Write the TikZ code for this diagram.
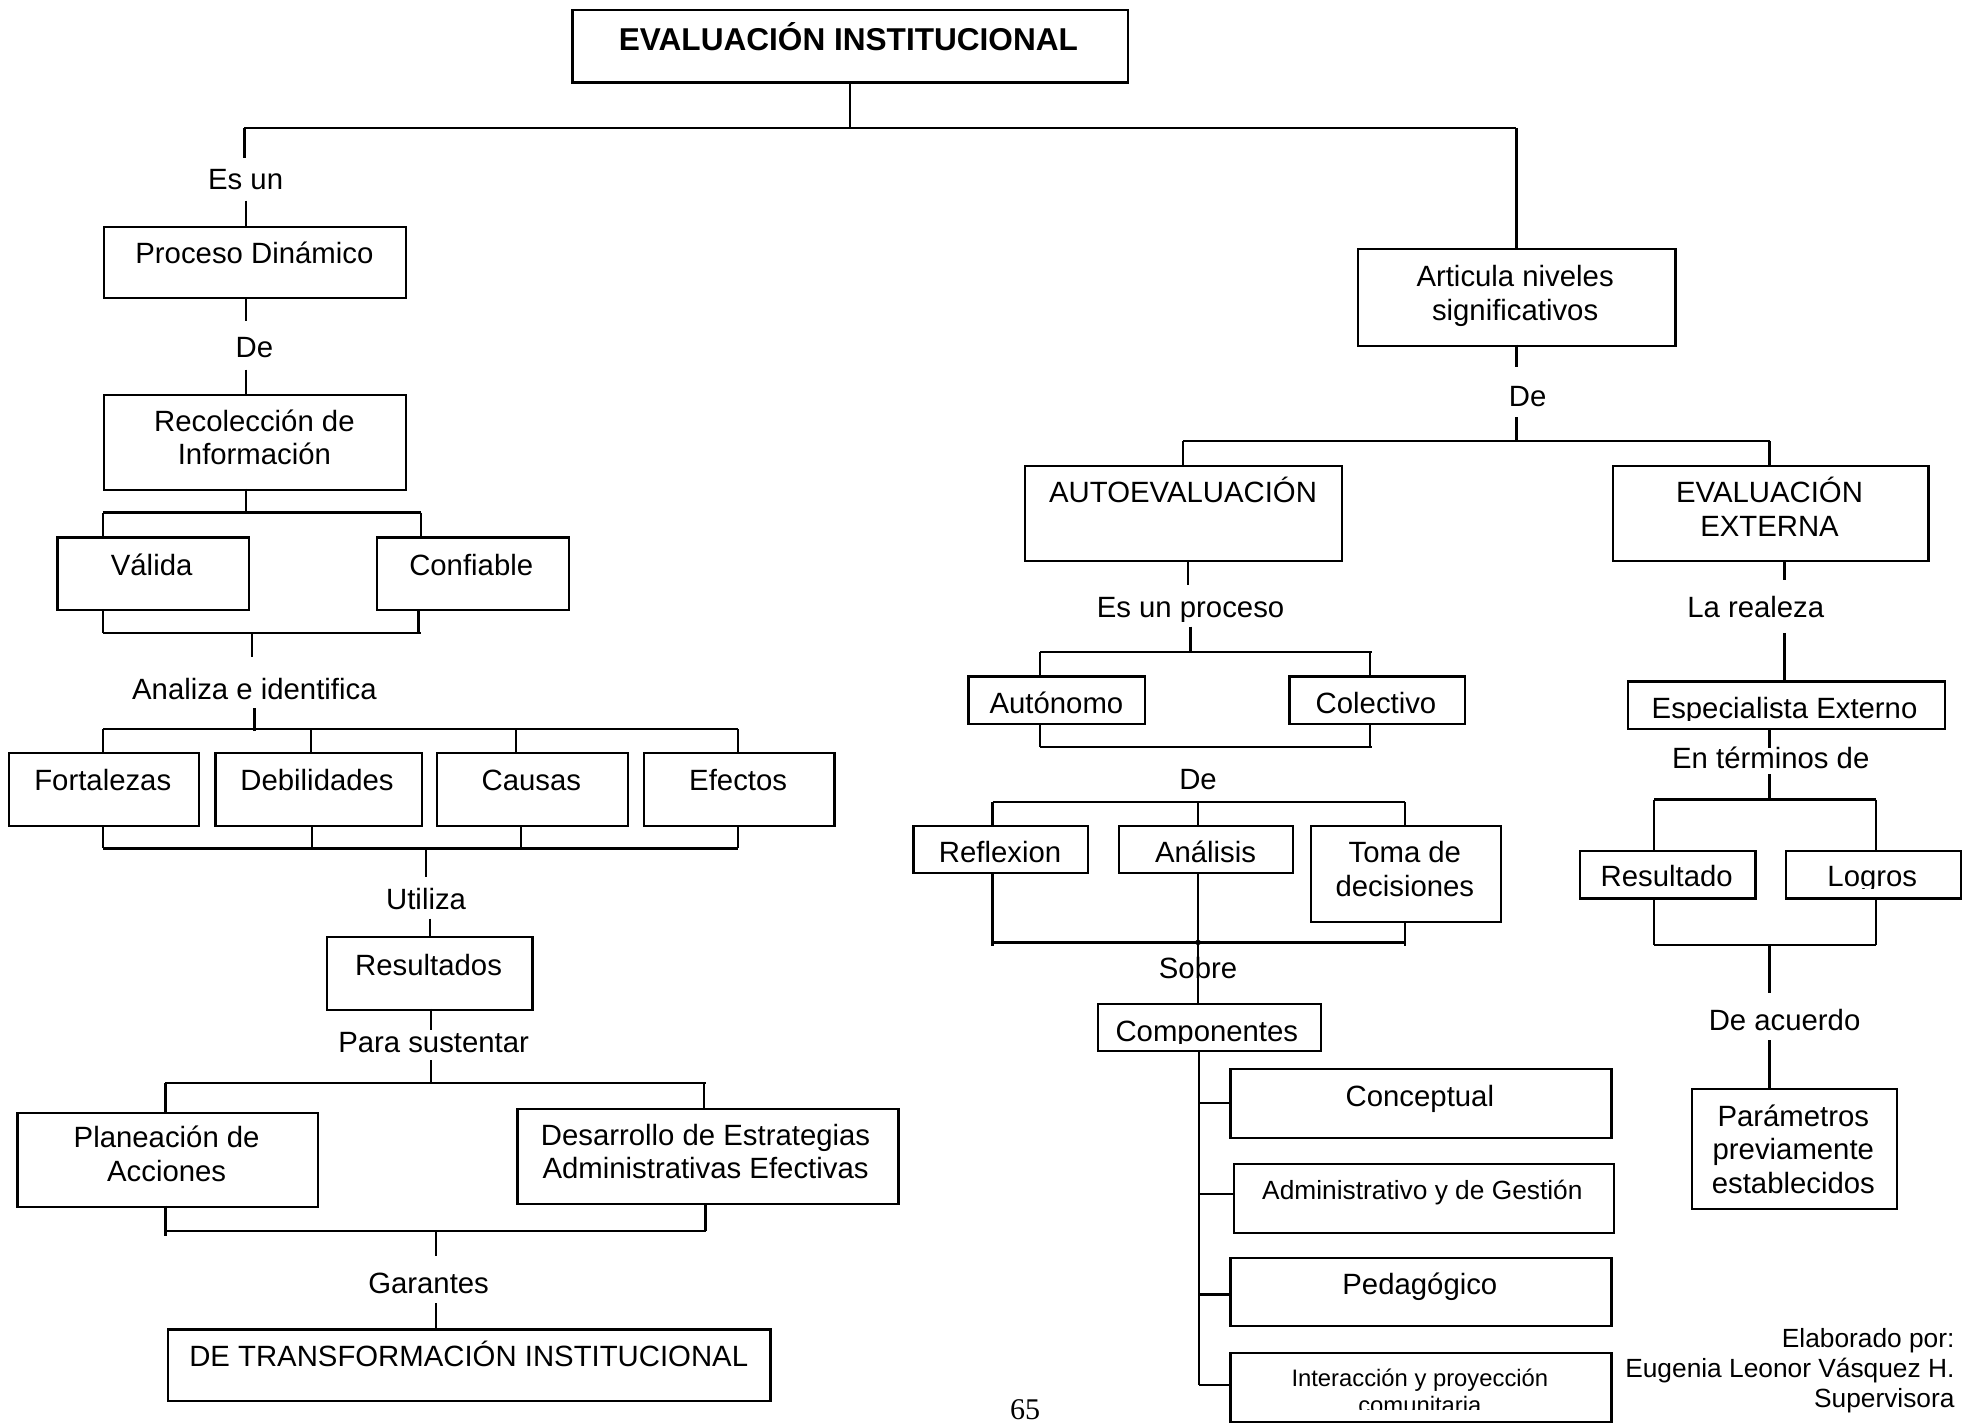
\documentclass[tikz,border=0pt]{standalone}
\usepackage{fontspec}
\setmainfont{Liberation Sans}
\newfontfamily\pagenumfont{Liberation Serif}

% centred multi-line text whose reference point is the first baseline
\newcommand{\stack}[1]{\vtop{\halign{\hfil##\hfil\cr#1\crcr}}}
% rectangle given by its top-left and bottom-right corners
\newcommand{\cbox}[5]{\node[boxst, minimum width={(#4-#2)*0.5pt}, minimum height={(#5-#3)*0.5pt}] (#1) at (#2,#3) {};}

\tikzset{
  boxst/.style={draw, line width=0.9pt, inner sep=0pt, anchor=north west},
  lbl/.style={inner sep=0pt, anchor=base, font=\fontsize{11.7}{13.5}\selectfont},
  ln/.style={line width=0.9pt}
}

\begin{document}
\begin{tikzpicture}[x=0.5pt, y=-0.5pt]
\useasboundingbox (0,0) rectangle (1568,1136);

% ---------------- boxes ----------------
\cbox{title}{456}{7}{899}{65}
\cbox{pd}{82}{180}{323}{237}
\cbox{rec}{82}{314}{323}{390}
\cbox{val}{45}{428}{198}{486}
\cbox{conf}{300}{428}{453}{486}
\cbox{fort}{6}{600}{158}{658}
\cbox{deb}{171}{600}{336}{658}
\cbox{cau}{348}{600}{500}{658}
\cbox{efe}{513}{600}{665}{658}
\cbox{res}{260}{747}{424}{805}
\cbox{plan}{13}{887}{253}{962}
\cbox{des}{412}{884}{716}{960}
\cbox{dti}{133}{1060}{614}{1117}

\cbox{art}{1083}{198}{1336}{275}
\cbox{auto}{817}{371}{1070}{447}
\cbox{ext}{1286}{371}{1538}{447}
\cbox{aut}{772}{539}{913}{577}
\cbox{col}{1028}{539}{1168}{577}
\cbox{ref}{728}{658}{867}{696}
\cbox{ana}{892}{658}{1031}{696}
\cbox{toma}{1045}{658}{1197}{735}
\cbox{comp}{875}{800}{1053}{838}
\cbox{conc}{981}{852}{1285}{907}
\cbox{adm}{984}{928}{1287}{983}
\cbox{ped}{981}{1003}{1285}{1057}
\cbox{inter}{981}{1079}{1285}{1134}
\cbox{esp}{1298}{543}{1551}{581}
\cbox{resu}{1260}{678}{1400}{716}
\cbox{log}{1424}{678}{1564}{716}
\cbox{par}{1349}{868}{1513}{964}

% ---------------- texts in boxes ----------------
\node[lbl, font=\bfseries\fontsize{12.6}{14}\selectfont] (title-t) at (677,40) {EVALUACIÓN INSTITUCIONAL};
\node[lbl] (pd-t) at (203,210) {Proceso Dinámico};
\node[lbl] (rec-t) at (203,344) {\stack{Recolección de\cr Información}};
\node[lbl] (val-t) at (121,459) {Válida};
\node[lbl] (conf-t) at (376,459) {Confiable};
\node[lbl] (fort-t) at (82,631) {Fortalezas};
\node[lbl] (deb-t) at (253,631) {Debilidades};
\node[lbl] (cau-t) at (424,631) {Causas};
\node[lbl] (efe-t) at (589,631) {Efectos};
\node[lbl] (res-t) at (342,778) {Resultados};
\node[lbl] (plan-t) at (133,916) {\stack{Planeación de\cr Acciones}};
\node[lbl, font=\fontsize{11.7}{13}\selectfont] (des-t) at (563,914) {\stack{Desarrollo de Estrategias\cr Administrativas Efectivas}};
\node[lbl] (dti-t) at (374,1090) {DE TRANSFORMACIÓN INSTITUCIONAL};

\node[lbl] (art-t) at (1209,229) {\stack{Articula niveles\cr significativos}};
\node[lbl] (auto-t) at (944,401) {AUTOEVALUACIÓN};
\node[lbl] (ext-t) at (1412,401) {\stack{EVALUACIÓN\cr EXTERNA}};
\node[lbl] (aut-t) at (843,569) {Autónomo};
\node[lbl] (col-t) at (1098,569) {Colectivo};
\node[lbl] (ref-t) at (798,688) {Reflexion};
\node[lbl] (ana-t) at (962,688) {Análisis};
\node[lbl] (toma-t) at (1121,688) {\stack{Toma de\cr decisiones}};
\begin{scope}
  \clip (876,801) rectangle (1052,833);
  \node[lbl] (comp-t) at (963,831) {Componentes};
\end{scope}
\node[lbl] (conc-t) at (1133,883) {Conceptual};
\node[lbl, font=\fontsize{10.5}{12}\selectfont] (adm-t) at (1135,957) {Administrativo y de Gestión};
\node[lbl] (ped-t) at (1133,1033) {Pedagógico};
\begin{scope}
  \clip (982,1080) rectangle (1284,1125);
  \node[lbl, font=\fontsize{9.5}{11}\selectfont] (inter-t) at (1133,1106) {\stack{Interacción y proyección\cr comunitaria}};
\end{scope}
\begin{scope}
  \clip (1299,544) rectangle (1550,575);
  \node[lbl] (esp-t) at (1424,573) {Especialista Externo};
\end{scope}
\node[lbl] (resu-t) at (1330,707) {Resultado};
\begin{scope}
  \clip (1425,679) rectangle (1563,709);
  \node[lbl] (log-t) at (1494,707) {Logros};
\end{scope}
\node[lbl, font=\fontsize{11.7}{13.25}\selectfont] (par-t) at (1431,899) {\stack{Parámetros\cr previamente\cr establecidos}};

% ---------------- connector labels ----------------
\node[lbl] (l-esun) at (196,151) {Es un};
\node[lbl] (l-de1) at (203,285) {De};
\node[lbl] (l-analiza) at (203,558) {Analiza e identifica};
\node[lbl] (l-utiliza) at (340,726) {Utiliza};
\node[lbl] (l-para) at (346,840) {Para sustentar};
\node[lbl] (l-gar) at (342,1032) {Garantes};
\node[lbl] (l-de2) at (1219,324) {De};
\begin{scope}
  \clip (860,470) rectangle (1040,496);
  \node[lbl] (l-esproc) at (950,493) {Es un proceso};
\end{scope}
\node[lbl] (l-real) at (1401,493) {La realeza};
\node[lbl] (l-de3) at (956,630) {De};
\node[lbl] (l-sobre) at (956,781) {Sobre};
\node[lbl] (l-term) at (1413,613) {En términos de};
\node[lbl] (l-acu) at (1424,822) {De acuerdo};

% ---------------- connectors: left branch ----------------
\coordinate (busL) at (195,102);
\coordinate (busR) at (1210,102);
\draw[ln] (title.south) -- (title.south |- busL);
\draw[ln] (busL) -- (busR);
\draw[ln] (busL) -- (195,126);
\draw[ln] (196,160) -- (196,180);
\draw[ln] (196,237) -- (196,256);
\draw[ln] (196,295) -- (196,314);

\coordinate (b1a) at (82,409);
\coordinate (b1b) at (336,409);
\draw[ln] (196,390) -- (196,409);
\draw[ln] (b1a) -- (b1b);
\draw[ln] (b1a) -- (b1a |- val.north);
\draw[ln] (b1b) -- (b1b |- conf.north);

\coordinate (b2a) at (82,505);
\coordinate (b2b) at (336,505);
\draw[ln] (b2a |- val.south) -- (b2a);
\draw[ln] (334,486) -- (334,505);
\draw[ln] (b2a) -- (b2b);
\draw[ln] (201,505) -- (201,524);
\draw[ln] (203,565) -- (203,583);

\coordinate (b3a) at (82,582);
\coordinate (b3b) at (589,582);
\draw[ln] (b3a) -- (b3b);
\foreach \x/\n in {82/fort,248/deb,412/cau,589/efe}
  \draw[ln] (\x,582) -- (\x,582 |- \n.north);

\coordinate (b4a) at (82,677);
\coordinate (b4b) at (589,677);
\foreach \x/\n in {82/fort,249/deb,416/cau,589/efe}
  \draw[ln] (\x,677 |- \n.south) -- (\x,677);
\draw[ln] (b4a) -- (b4b);
\draw[ln] (340,677) -- (340,700);
\draw[ln] (343,733) -- (343,747);
\draw[ln] (344,805) -- (344,822);
\draw[ln] (344,846) -- (344,864);

\coordinate (b5a) at (132,864);
\coordinate (b5b) at (563,864);
\draw[ln] (b5a) -- (b5b);
\draw[ln] (b5a) -- (b5a |- plan.north);
\draw[ln] (562,864) -- (562,884);

\coordinate (b6a) at (132,982);
\coordinate (b6b) at (563,982);
\draw[ln] (132,962) -- (132,986);
\draw[ln] (563,960) -- (563,982);
\draw[ln] (b6a) -- (b6b);
\draw[ln] (348,982) -- (348,1002);
\draw[ln] (348,1040) -- (348,1060);

% ---------------- connectors: right branch ----------------
\draw[ln] (busR) -- (busR |- art.north);
\draw[ln] (1210,275) -- (1210,293);
\draw[ln] (1210,333) -- (1210,352);
\coordinate (b7a) at (944,352);
\coordinate (b7b) at (1412,352);
\draw[ln] (b7a) -- (b7b);
\draw[ln] (b7a) -- (b7a |- auto.north);
\draw[ln] (b7b) -- (b7b |- ext.north);

\draw[ln] (948,447) -- (948,467);
\draw[ln] (950,500) -- (950,520);
\coordinate (b8a) at (830,520);
\coordinate (b8b) at (1095,520);
\draw[ln] (b8a) -- (b8b);
\draw[ln] (b8a) -- (b8a |- aut.north);
\draw[ln] (1093,520) -- (1093,539);
\draw[ln] (830,577) -- (830,596);
\draw[ln] (1093,577) -- (1093,596);
\draw[ln] (830,596) -- (1095,596);

\coordinate (b9a) at (792,640);
\coordinate (b9b) at (1121,640);
\draw[ln] (b9a) -- (b9b);
\draw[ln] (b9a) -- (b9a |- ref.north);
\draw[ln] (956,640) -- (956,658);
\draw[ln] (b9b) -- (b9b |- toma.north);

\coordinate (b10a) at (792,752);
\coordinate (b10b) at (1122,752);
\draw[ln] (792,696) -- (792,755);
\draw[ln] (1121,735) -- (1121,755);
\draw[ln] (b10a) -- (b10b);
\draw[ln] (956,696) -- (956,800);
\fill (956,752) circle (2.2);

\coordinate (spine) at (957,1105);
\draw[ln] (957,838) -- (spine);
\draw[ln] (957,880) -- (957,880 -| conc.west);
\draw[ln] (957,953) -- (957,953 -| adm.west);
\draw[ln] (957,1033) -- (957,1033 -| ped.west);
\draw[ln] (spine) -- (spine -| inter.west);

\draw[ln] (1424,447) -- (1424,463);
\draw[ln] (1424,505) -- (1424,543);
\draw[ln] (1412,581) -- (1412,597);
\draw[ln] (1412,618) -- (1412,638);
\coordinate (b11a) at (1320,638);
\coordinate (b11b) at (1497,638);
\draw[ln] (b11a) -- (b11b);
\draw[ln] (b11a) -- (b11a |- resu.north);
\draw[ln] (b11b) -- (b11b |- log.north);
\coordinate (b12a) at (1320,754);
\coordinate (b12b) at (1497,754);
\draw[ln] (b12a |- resu.south) -- (b12a);
\draw[ln] (b12b |- log.south) -- (b12b);
\draw[ln] (b12a) -- (b12b);
\draw[ln] (1412,754) -- (1412,792);
\draw[ln] (1412,830) -- (1412,868);

% ---------------- page number and credit ----------------
\node[lbl, font=\pagenumfont\fontsize{12}{14}\selectfont] (pagenum) at (818,1133) {65};
\node[lbl, anchor=base east, font=\fontsize{10.5}{12}\selectfont] (cred1) at (1560,1075) {Elaborado por:};
\node[lbl, anchor=base east, font=\fontsize{10.5}{12}\selectfont] (cred2) at (1560,1099) {Eugenia Leonor Vásquez H.};
\node[lbl, anchor=base east, font=\fontsize{10.5}{12}\selectfont] (cred3) at (1560,1123) {Supervisora};

\end{tikzpicture}
\end{document}
